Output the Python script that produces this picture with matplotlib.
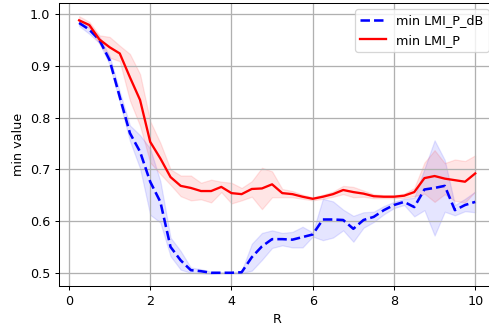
import matplotlib
matplotlib.use("Agg")
import matplotlib.pyplot as plt
import numpy as np

R = [0.25, 0.5, 0.75, 1.0, 1.25, 1.5, 1.75, 2.0, 2.25, 2.5,
     2.75, 3.0, 3.25, 3.5, 3.75, 4.0, 4.25, 4.5, 4.75, 5.0,
     5.25, 5.5, 5.75, 6.0, 6.25, 6.5, 6.75, 7.0, 7.25, 7.5,
     7.75, 8.0, 8.25, 8.5, 8.75, 9.0, 9.25, 9.5, 9.75, 10.0]

# min LMI_P_dB: mean and spread
lmi_db = [0.983, 0.970, 0.950, 0.911, 0.840, 0.770, 0.734, 0.676, 0.637, 0.550,
          0.524, 0.505, 0.503, 0.500, 0.500, 0.500, 0.501, 0.530, 0.551, 0.565,
          0.565, 0.564, 0.569, 0.574, 0.603, 0.603, 0.602, 0.585, 0.602, 0.608,
          0.621, 0.631, 0.637, 0.627, 0.661, 0.664, 0.668, 0.621, 0.631, 0.637]
lmi_db_std = [0.006, 0.008, 0.006, 0.008, 0.010, 0.015, 0.032, 0.064, 0.040, 0.018,
              0.018, 0.005, 0.004, 0.002, 0.001, 0.001, 0.002, 0.026, 0.026, 0.017,
              0.012, 0.015, 0.020, 0.004, 0.040, 0.035, 0.020, 0.025, 0.015, 0.010,
              0.008, 0.006, 0.006, 0.018, 0.040, 0.092, 0.050, 0.010, 0.012, 0.020]

# min LMI_P: mean and spread
lmi = [0.988, 0.979, 0.951, 0.936, 0.924, 0.878, 0.834, 0.753, 0.721, 0.685,
       0.668, 0.664, 0.658, 0.658, 0.666, 0.654, 0.652, 0.662, 0.663, 0.671,
       0.654, 0.652, 0.647, 0.643, 0.647, 0.652, 0.660, 0.656, 0.653, 0.648,
       0.647, 0.647, 0.649, 0.656, 0.683, 0.687, 0.682, 0.679, 0.676, 0.692]
lmi_std = [0.008, 0.006, 0.008, 0.020, 0.015, 0.045, 0.050, 0.040, 0.030, 0.015,
           0.020, 0.024, 0.016, 0.022, 0.010, 0.020, 0.012, 0.015, 0.040, 0.025,
           0.008, 0.006, 0.004, 0.003, 0.004, 0.005, 0.008, 0.010, 0.006, 0.004,
           0.003, 0.003, 0.004, 0.008, 0.030, 0.050, 0.030, 0.040, 0.040, 0.035]

x = np.array(R)
db, db_s = np.array(lmi_db), np.array(lmi_db_std)
p, p_s = np.array(lmi), np.array(lmi_std)

# reference looks rendered at ~92 dpi (text is a bit smaller than 10pt@100dpi)
DPI = 92
fig = plt.figure(figsize=(489 / DPI, 326 / DPI), dpi=DPI)
# the right edge of the axes sits just past the figure edge, as in the reference
ax = fig.add_axes([0.1213, 0.1236, 0.891, 0.868])

ax.plot(x, db, "--", color="blue", lw=2, label="min LMI_P_dB")
ax.fill_between(x, db - db_s, db + db_s, color="blue", alpha=0.1)
ax.plot(x, p, "-", color="red", lw=1.8, label="min LMI_P")
ax.fill_between(x, p - p_s, p + p_s, color="red", alpha=0.1)

ax.set_ylim(0.475, 1.022)
ax.set_xticks([0, 2, 4, 6, 8, 10])
ax.set_xlabel("R")
ax.set_ylabel("min value")
ax.grid(True, color="#b0b0b0", lw=1)
ax.legend(loc="upper right")

fig.savefig("out.png", dpi=DPI)
